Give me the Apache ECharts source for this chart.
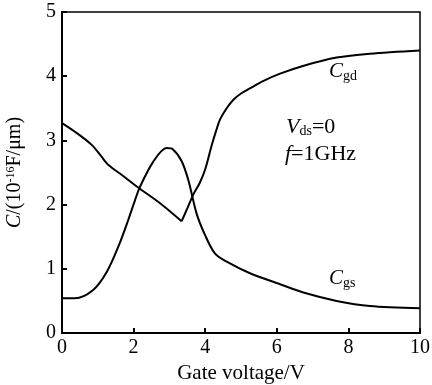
<!DOCTYPE html>
<html>
<head>
<meta charset="utf-8">
<script src="https://cdn.jsdelivr.net/npm/echarts@6/dist/echarts.min.js"></script>
<style>
  html, body { margin: 0; padding: 0; background: #fff; }
  #chart { width: 432px; height: 385px; }
</style>
</head>
<body>
<div id="chart"></div>
<script>
// Gate voltage (V) vs capacitance (1e-16 F/μm)
const cgdFallV = [0, 0.4, 0.83, 1.1, 1.29, 1.7, 2.12, 2.74, 3.34];
const cgdFallC = [3.27, 3.12, 2.93, 2.75, 2.62, 2.45, 2.27, 2.02, 1.74];
const cgdRiseV = [3.34, 3.5, 3.67, 3.85, 4.0, 4.18, 4.3, 4.41, 4.6, 4.78, 5.0, 5.25, 5.6, 6.09, 6.73, 7.67, 8.6, 10];
const cgdRiseC = [1.74, 1.94, 2.16, 2.34, 2.55, 2.92, 3.14, 3.32, 3.5, 3.63, 3.73, 3.81, 3.92, 4.04, 4.16, 4.29, 4.35, 4.40];
const cgsV = [0, 0.36, 0.87, 1.25, 1.57, 1.85, 2.04, 2.18, 2.55, 2.92, 3.1, 3.34, 3.53, 3.76, 4.0, 4.27, 4.6, 5.25, 6.09, 6.74, 7.67, 8.6, 10];
const cgsC = [0.54, 0.54, 0.67, 0.95, 1.34, 1.76, 2.07, 2.28, 2.67, 2.88, 2.86, 2.68, 2.38, 1.86, 1.52, 1.24, 1.11, 0.93, 0.76, 0.63, 0.50, 0.42, 0.385];
const xTicks = [0, 2, 4, 6, 8, 10];
const yTicks = [0, 1, 2, 3, 4, 5];

const pairs = (xs, ys) => xs.map((x, i) => [x, ys[i]]);
const serif = '"Liberation Serif", "Times New Roman", serif';

const chart = echarts.init(document.getElementById('chart'));
const lineSeries = (name, data) => ({
  name, type: 'line', data, smooth: 0.3, symbol: 'none',
  lineStyle: { color: '#000', width: 2 }, z: 3
});
const sub = (size) => ({ fontFamily: serif, fontSize: size, fill: '#000', padding: [9, 0, 0, 0] });
const ital = (size) => ({ fontFamily: serif, fontSize: size, fontStyle: 'italic', fill: '#000' });

chart.setOption({
  animation: false,
  backgroundColor: '#fff',
  textStyle: { fontFamily: serif, color: '#000' },
  grid: {
    left: 62, right: 12, top: 12, bottom: 52, outerBoundsMode: 'none',
    show: true, borderColor: '#000', borderWidth: 1.5
  },
  xAxis: {
    type: 'value', min: xTicks[0], max: xTicks[xTicks.length - 1], interval: 2,
    name: 'Gate voltage/V', nameLocation: 'middle', nameGap: 29,
    nameTextStyle: { fontFamily: serif, fontSize: 21, color: '#000' },
    axisLine: { lineStyle: { color: '#000', width: 2 } },
    axisTick: { inside: true, length: 5, lineStyle: { color: '#000', width: 2 } },
    axisLabel: { fontFamily: serif, fontSize: 20, color: '#000', margin: 5 },
    splitLine: { show: false }
  },
  yAxis: {
    type: 'value', min: yTicks[0], max: yTicks[yTicks.length - 1], interval: 1,
    name: '{i|C}/(10{sup|-16}F/μm)', nameLocation: 'middle', nameGap: 37, nameRotate: 90,
    nameTextStyle: {
      fontFamily: serif, fontSize: 20, color: '#000',
      rich: {
        i: { fontFamily: serif, fontSize: 20, fontStyle: 'italic', color: '#000' },
        sup: { fontFamily: serif, fontSize: 12, verticalAlign: 'top', color: '#000', padding: [0, 0, 7, 0] }
      }
    },
    axisLine: { lineStyle: { color: '#000', width: 2 } },
    axisTick: { inside: true, length: 5, lineStyle: { color: '#000', width: 2 } },
    axisLabel: { fontFamily: serif, fontSize: 20, color: '#000', margin: 6 },
    splitLine: { show: false }
  },
  series: [
    lineSeries('Cgd', pairs(cgdFallV, cgdFallC)),
    lineSeries('Cgd rise', pairs(cgdRiseV, cgdRiseC)),
    lineSeries('Cgs', pairs(cgsV, cgsC))
  ],
  graphic: [
    {
      type: 'text', left: 329, top: 61,
      style: { text: '{i|C}{s|gd}', rich: { i: ital(21), s: sub(14) } }
    },
    {
      type: 'text', left: 329, top: 268,
      style: { text: '{i|C}{s|gs}', rich: { i: ital(21), s: sub(14) } }
    },
    {
      type: 'text', left: 286, top: 116,
      style: { text: '{i|V}{s|ds}{n|=0}', rich: { i: ital(22), s: sub(14), n: { fontFamily: serif, fontSize: 22, fill: '#000' } } }
    },
    {
      type: 'text', left: 285, top: 143,
      style: { text: '{i|f}{n|=1GHz}', rich: { i: ital(22), n: { fontFamily: serif, fontSize: 22, fill: '#000' } } }
    }
  ]
});
</script>
</body>
</html>
